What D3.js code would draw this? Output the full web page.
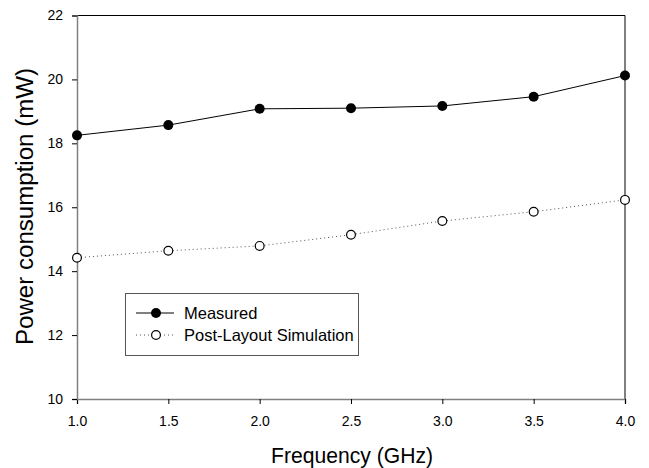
<!DOCTYPE html>
<html>
<head>
<meta charset="utf-8">
<script src="https://cdn.jsdelivr.net/npm/d3@7"></script>
<style>
  html, body { margin: 0; padding: 0; background: #fff; }
  svg { display: block; font-family: "Liberation Sans", Arial, sans-serif; }
</style>
</head>
<body>
<svg id="chart" width="649" height="468"></svg>
<script>
// Power consumption versus frequency
const frequencies = [1.0, 1.5, 2.0, 2.5, 3.0, 3.5, 4.0];
const measured = [18.25, 18.57, 19.08, 19.10, 19.17, 19.46, 20.12];
const postLayout = [14.42, 14.64, 14.79, 15.14, 15.57, 15.86, 16.23];
const xTicks = [1.0, 1.5, 2.0, 2.5, 3.0, 3.5, 4.0];
const yTicks = [10, 12, 14, 16, 18, 20, 22];
const seriesNames = ["Measured", "Post-Layout Simulation"];

const svg = d3.select("#chart");
const plotLeft = 77, plotRight = 625, plotTop = 15.5, plotBottom = 399;

const x = d3.scaleLinear().domain([1, 4]).range([plotLeft, plotRight]);
const y = d3.scaleLinear().domain([10, 22]).range([plotBottom, plotTop]);

// frame: top and right edges in black
svg.append("path")
  .attr("d", `M${plotLeft},${plotTop}H${plotRight}V${plotBottom}`)
  .attr("fill", "none").attr("stroke", "#000").attr("stroke-width", 1);

// axes
const xAxis = svg.append("g").attr("transform", `translate(0,${plotBottom})`)
  .call(d3.axisBottom(x).tickValues(xTicks).tickFormat(d3.format(".1f")).tickSize(5).tickPadding(12));
const yAxis = svg.append("g").attr("transform", `translate(${plotLeft},0)`)
  .call(d3.axisLeft(y).tickValues(yTicks).tickFormat(d3.format("d")).tickSize(5).tickPadding(9));

[xAxis, yAxis].forEach(g => {
  g.select(".domain").attr("stroke", "#808080").attr("stroke-width", 1.5);
  g.selectAll(".tick line").attr("stroke", "#000");
  g.selectAll(".tick text").attr("fill", "#000")
    .style("font-size", "14px").style("font-family", "Liberation Sans, Arial, sans-serif");
});

// axis titles
svg.append("text")
  .attr("x", 352).attr("y", 463)
  .attr("text-anchor", "middle").style("font-size", "22.5px")
  .attr("textLength", 162).attr("lengthAdjust", "spacingAndGlyphs")
  .text("Frequency (GHz)");
svg.append("text")
  .attr("transform", "translate(33,206.5) rotate(-90)")
  .attr("text-anchor", "middle").style("font-size", "23px")
  .attr("textLength", 277).attr("lengthAdjust", "spacingAndGlyphs")
  .text("Power consumption (mW)");

const line = d3.line().x(d => x(d[0])).y(d => y(d[1]));
const measuredPts = frequencies.map((f, i) => [f, measured[i]]);
const simPts = frequencies.map((f, i) => [f, postLayout[i]]);

// simulated (dotted, open circles)
svg.append("path").datum(simPts).attr("d", line)
  .attr("fill", "none").attr("stroke", "#555").attr("stroke-width", 1)
  .attr("stroke-dasharray", "1,3");
svg.selectAll("circle.sim").data(simPts).join("circle").attr("class", "sim")
  .attr("cx", d => x(d[0])).attr("cy", d => y(d[1])).attr("r", 4.4)
  .attr("fill", "#fff").attr("stroke", "#000").attr("stroke-width", 1.2);

// measured (solid, filled circles)
svg.append("path").datum(measuredPts).attr("d", line)
  .attr("fill", "none").attr("stroke", "#000").attr("stroke-width", 1);
svg.selectAll("circle.meas").data(measuredPts).join("circle").attr("class", "meas")
  .attr("cx", d => x(d[0])).attr("cy", d => y(d[1])).attr("r", 5)
  .attr("fill", "#000");

// legend
const lg = svg.append("g");
lg.append("rect").attr("x", 125.5).attr("y", 293.5).attr("width", 233).attr("height", 62)
  .attr("fill", "#fff").attr("stroke", "#555").attr("stroke-width", 1);
const rows = [313, 335];
rows.forEach((ry, i) => {
  lg.append("line").attr("x1", 136).attr("x2", 174).attr("y1", ry).attr("y2", ry)
    .attr("stroke", i === 0 ? "#000" : "#555").attr("stroke-width", 1)
    .attr("stroke-dasharray", i === 0 ? null : "1,3");
  lg.append("circle").attr("cx", 156).attr("cy", ry).attr("r", i === 0 ? 5 : 4.4)
    .attr("fill", i === 0 ? "#000" : "#fff").attr("stroke", "#000").attr("stroke-width", i === 0 ? 0 : 1.2);
  lg.append("text").attr("x", 184).attr("y", ry + 6).style("font-size", "16.5px")
    .text(seriesNames[i]);
});
</script>
</body>
</html>
